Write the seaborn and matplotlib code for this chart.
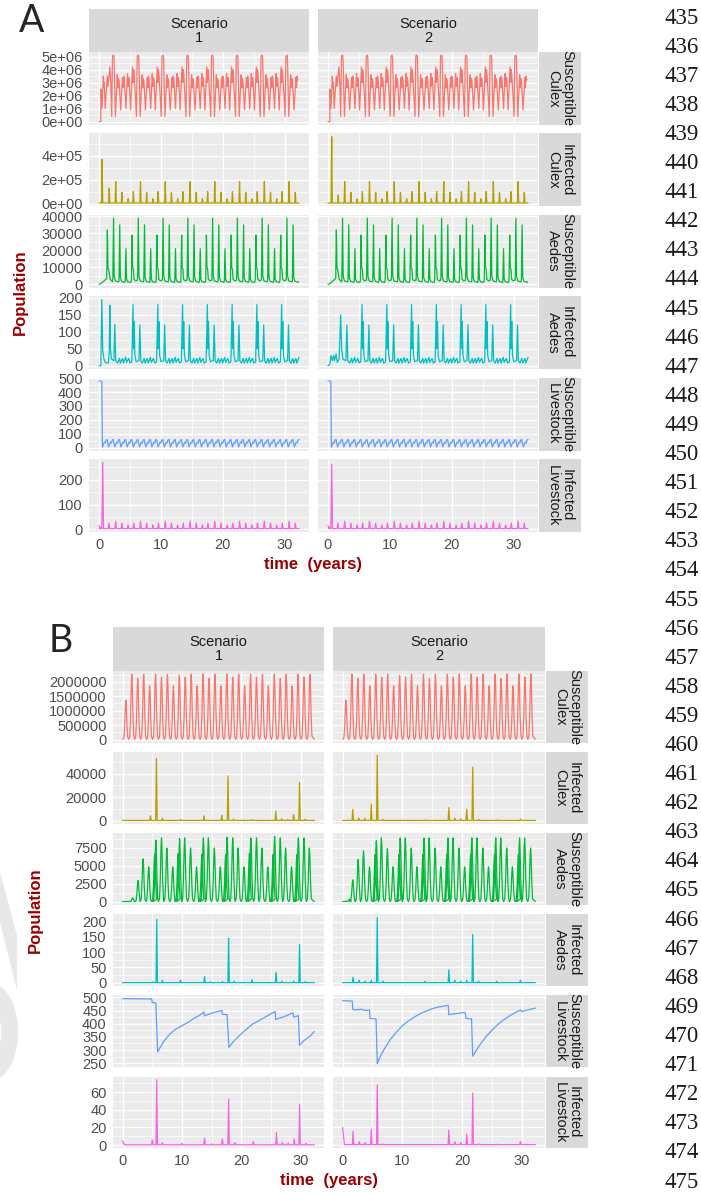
import matplotlib
matplotlib.use("Agg")
import matplotlib.pyplot as plt
from matplotlib.patches import Polygon, Ellipse
import numpy as np
import pandas as pd
import seaborn as sns

sns.set_theme(style="darkgrid")
plt.rcParams["font.family"] = ["Liberation Sans", "DejaVu Sans"]

W, H = 701, 1194
T_END = 32.3
COMPARTMENTS = ["Susceptible\nCulex", "Infected\nCulex", "Susceptible\nAedes",
                "Infected\nAedes", "Susceptible\nLivestock", "Infected\nLivestock"]
COLORS = ["#F8766D", "#B79F00", "#00BA38", "#00BFC4", "#619CFF", "#F564E3"]
SCENARIOS = ["Scenario\n1", "Scenario\n2"]
TITLE_RED = "#990000"

# ---------------- Panel A data ----------------
# Susceptible Culex (x1e6): start-up, then one 4-year cycle repeated
A_SC_T0 = [0, 0.28, 0.32, 0.48, 0.7, 0.8, 0.85, 1.0, 1.34, 1.45, 1.55, 1.76, 1.9]
A_SC_V0 = [0, 0, 2.5, 1.0, 3.5, 2.6, 3.0, 1.0, 3.5, 2.7, 3.2, 4.2, 3.0]
A_SC_OFF = [0.0, 0.12, 0.18, 0.32, 0.38, 0.6, 0.9, 1.0, 1.1, 1.2, 1.45, 1.75, 1.85, 1.95,
            2.05, 2.3, 2.55, 2.65, 2.75, 2.85, 3.05, 3.35, 3.45, 3.55, 3.65]
A_SC_CYC = [0.4, 4.9, 5.1, 5.1, 4.9, 0.4, 3.6, 2.6, 3.3, 3.1, 0.9, 3.4, 2.6, 3.5, 3.2,
            1.0, 3.7, 2.7, 3.4, 3.1, 0.9, 4.2, 3.0, 4.0, 3.5]
A_SC_STARTS = [2.05, 6.05, 10.05, 14.05, 18.05, 22.05, 26.05, 30.05]

# Infected Culex (x1e5): spikes
A_IC_SPK_T1 = [0.5, 1.65]
A_IC_SPK_V1 = [3.7, 1.3]
A_IC_SPK_T2 = [0.6, 1.65]
A_IC_SPK_V2 = [5.6, 0.7]
A_IC_OFF = [0.0, 1.0, 2.0, 2.85]
A_IC_CYC = [1.85, 0.95, 0.4, 1.0]
A_IC_STARTS = [2.7, 6.7, 10.7, 14.7, 18.7, 22.7, 26.7, 30.7]

# Susceptible Aedes (x1e3)
A_SA_T0 = [0, 0.3, 0.8, 1.1, 1.25, 1.35, 1.45, 1.6, 1.8, 2.2]
A_SA_V0 = [0, 0.5, 2, 3, 3.5, 32, 10, 8, 3, 1.5]
A_SA_OFF = [-0.12, 0, 0.1, 0.3, 0.8, 0.88, 1.0, 1.1, 1.3, 1.8, 1.88, 2.0, 2.1, 2.3,
            2.8, 2.88, 3.0, 3.08, 3.2, 3.3, 3.6, 3.8]
A_SA_CYC = [2.5, 39, 5, 2.0, 1.5, 2, 35, 4, 1.8, 1.2, 1.5, 21, 3, 1.5, 1.2, 2.5, 29,
            10, 9, 3, 2, 2.5]
A_SA_STARTS = [2.35, 6.35, 10.35, 14.35, 18.35, 22.35, 26.35, 30.35]

# Infected Aedes
A_IA_T1 = [0, 0.3, 0.45, 0.6, 0.8, 1.0, 1.5, 1.65, 1.75, 1.85, 2.0, 2.4, 2.55, 2.7, 3.0,
           3.3, 3.45, 3.8, 3.95, 4.3, 4.45, 4.8, 5.0, 5.3]
A_IA_V1 = [0, 0, 195, 45, 20, 10, 8, 40, 178, 50, 20, 15, 122, 15, 8, 22, 8, 22, 8, 25,
           10, 22, 8, 12]
A_IA_T2 = [0, 0.3, 0.5, 0.7, 0.9, 1.05, 1.3, 1.5, 1.8, 2.05, 2.2, 2.4, 2.9, 3.05, 3.2,
           3.5, 3.8, 3.95, 4.3, 4.45, 4.8, 5.0, 5.3]
A_IA_V2 = [0, 5, 30, 15, 30, 15, 35, 10, 20, 150, 50, 20, 15, 120, 15, 8, 22, 8, 25, 10,
           22, 8, 12]
A_IA_OFF = [0, 0.08, 0.18, 0.3, 0.5, 0.95, 1.1, 1.25, 1.5, 1.8, 1.95, 2.3, 2.45, 2.8,
            2.95, 3.3, 3.5, 3.8]
A_IA_CYC = [180, 50, 130, 30, 12, 15, 120, 15, 8, 22, 8, 22, 8, 25, 10, 22, 8, 12]
A_IA_STARTS = [5.5, 9.5, 13.5, 17.5, 21.5, 25.5, 29.5]

# Susceptible Livestock
A_SL_T0 = [0, 0.45, 0.55]
A_SL_V0 = [480, 478, 3]
A_SL_OFF = [0.3, 0.45, 0.6, 0.75, 1.0]
A_SL_CYC = [40, 33, 55, 58, 5]
A_SL_STARTS = [0.55 + k for k in range(32)]

# Infected Livestock
A_IL_T1 = [0.2, 0.6]
A_IL_V1 = [8, 270]
A_IL_T2 = [0.2, 0.6]
A_IL_V2 = [8, 262]
A_IL_OFF = [0.0, 1.0, 2.0, 2.9]
A_IL_CYC = [33, 25, 18, 25]
A_IL_STARTS = [-1.3, 2.7, 6.7, 10.7, 14.7, 18.7, 22.7, 26.7, 30.7]

# ---------------- Panel B data ----------------
B_SC_PEAK_T = [0.55 + k for k in range(32)]
B_SC_PEAK_V = [1.35, 2.25, 2.1, 2.25, 1.85, 2.25, 2.15, 2.25, 1.85, 2.2, 2.15, 2.25, 1.85,
               2.25, 2.1, 2.25, 1.85, 2.25, 2.15, 2.25, 1.85, 2.25, 2.15, 2.25, 1.85, 2.25,
               2.1, 2.25, 1.85, 2.25, 2.15, 2.25]

B_IC_T1 = [4.7, 5.7, 6.7, 9.8, 13.7, 16.7, 17.75, 18.7, 21.8, 25.8, 26.8, 27.8, 28.8, 29.8, 30.8]
B_IC_V1 = [4, 53, 2, 0.8, 4, 4.5, 38, 1.2, 0.8, 8, 1.5, 1, 5, 32.5, 1.2]
B_IC_T2 = [1.7, 2.7, 3.7, 4.8, 5.8, 6.8, 13.8, 17.8, 18.8, 19.8, 20.8, 21.8, 22.8, 25.8, 29.8]
B_IC_V2 = [9.4, 2, 2, 14, 55.5, 1, 0.5, 11, 2, 1.5, 9.7, 45.5, 1, 0.5, 1.2]

B_SA_T1 = [1.7, 2.6, 3.45, 4.4, 5.4, 5.6, 6.55, 7.45, 8.45, 9.35, 9.6, 10.45, 11.45, 12.45,
           13.35, 13.6, 14.45, 15.45, 16.45, 17.35, 17.6, 18.55, 19.45, 20.45, 21.35, 21.6,
           22.55, 23.45, 24.45, 25.35, 25.6, 26.55, 27.45, 28.45, 29.35, 29.6, 30.55, 31.45]
B_SA_V1 = [0.5, 2.9, 5.9, 4.8, 6.5, 8.5, 8.8, 7.4, 4.8, 6.6, 8.7, 8.8, 7.4, 4.8, 6.5, 8.8,
           8.8, 7.4, 4.8, 6.5, 8.9, 8.8, 7.4, 4.8, 6.6, 8.8, 8.8, 7.4, 4.8, 6.5, 9.0, 8.8,
           7.4, 4.8, 6.5, 8.8, 8.8, 7.4]
B_SA_T2 = [1.1, 1.7, 2.6, 3.5, 4.5, 5.45, 5.65, 6.5, 7.5, 8.45, 9.45, 9.65, 10.5, 11.5,
           12.45, 13.45, 13.65, 14.5, 15.5, 16.45, 17.45, 17.65, 18.5, 19.5, 20.45, 21.45,
           21.65, 22.5, 23.5, 24.45, 25.45, 25.65, 26.5, 27.5, 28.45, 29.45, 29.65, 30.5, 31.5]
B_SA_V2 = [0.3, 3.0, 5.8, 7.0, 4.8, 6.5, 8.4, 8.8, 7.3, 4.8, 6.5, 8.8, 8.8, 7.4, 4.8, 6.5,
           8.8, 8.8, 7.4, 4.8, 6.5, 8.8, 8.8, 7.4, 4.8, 6.5, 8.8, 8.8, 7.4, 4.8, 6.5, 8.8,
           8.8, 7.4, 4.8, 6.5, 8.8, 8.8, 7.4]

B_IA_T1 = [5.0, 5.75, 6.7, 9.75, 13.8, 14.8, 16.8, 17.85, 18.8, 21.8, 25.85, 26.8, 28.8, 29.8, 30.8]
B_IA_V1 = [3, 207, 8, 8, 20, 3, 4, 146, 5, 10, 34, 5, 5, 125, 4]
B_IA_T2 = [1.75, 2.75, 3.75, 4.8, 5.8, 6.75, 13.8, 17.8, 18.8, 19.8, 20.8, 21.8, 22.8, 25.8, 29.8]
B_IA_V2 = [18, 8, 5, 8, 213, 5, 5, 42, 8, 5, 8, 158, 5, 5, 8]

B_SL_T1 = [0, 4.9, 5.0, 5.6, 5.9, 6.2, 7.0, 8.0, 9.0, 10.0, 11.0, 12.0, 13.0, 13.7, 13.8,
           15.0, 16.7, 16.8, 17.6, 17.9, 18.3, 19.0, 20.0, 21.0, 22.0, 23.0, 24.0, 25.0,
           25.7, 25.8, 27.0, 28.7, 28.8, 29.6, 29.8, 30.5, 31.5, 32.3]
B_SL_V1 = [495, 494, 480, 479, 293, 305, 335, 362, 380, 392, 405, 420, 432, 445, 430, 440,
           450, 436, 434, 310, 322, 340, 362, 382, 400, 412, 425, 438, 446, 416, 425, 441,
           425, 430, 318, 335, 352, 370]
B_SL_T2 = [0, 1.6, 1.7, 2.0, 3.0, 4.0, 4.5, 4.6, 5.6, 5.8, 6.3, 7.0, 8.0, 9.0, 10.0, 11.0,
           12.0, 13.0, 14.0, 15.0, 16.0, 17.0, 17.7, 17.8, 18.5, 19.5, 20.5, 20.7, 21.6,
           21.8, 22.3, 23.0, 24.0, 25.0, 26.0, 27.0, 28.0, 29.0, 29.8, 30.0, 31.0, 32.3]
B_SL_V2 = [487, 486, 455, 452, 455, 450, 452, 420, 418, 248, 275, 305, 340, 368, 392, 410,
           425, 438, 448, 457, 463, 467, 470, 434, 437, 440, 443, 420, 418, 277, 295, 320,
           350, 375, 397, 415, 430, 443, 452, 446, 452, 459]

B_IL_T1 = [5.0, 5.75, 6.7, 10.0, 13.8, 15.0, 16.8, 17.85, 18.9, 22.0, 25.9, 26.9, 27.9, 28.9, 29.8, 30.9]
B_IL_V1 = [6, 74, 3, 2, 8, 1.5, 7, 52, 3, 4, 14, 3, 2, 7, 46, 2]
B_IL_T2 = [1.75, 2.8, 3.75, 4.8, 5.8, 6.75, 17.8, 18.8, 19.8, 20.8, 21.8, 22.8, 25.8, 29.8, 30.8]
B_IL_V2 = [15.5, 4, 3, 18, 68, 1.5, 17, 4, 3, 12.5, 59, 1.5, 1, 4, 1]

A_YTICKS = [[0, 1e6, 2e6, 3e6, 4e6, 5e6], [0, 2e5, 4e5], [0, 10000, 20000, 30000, 40000],
            [0, 50, 100, 150, 200], [0, 100, 200, 300, 400, 500], [0, 100, 200]]
A_YLABELS = [["0e+00", "1e+06", "2e+06", "3e+06", "4e+06", "5e+06"],
             ["0e+00", "2e+05", "4e+05"], ["0", "10000", "20000", "30000", "40000"],
             ["0", "50", "100", "150", "200"], ["0", "100", "200", "300", "400", "500"],
             ["0", "100", "200"]]
B_YTICKS = [[0, 500000, 1000000, 1500000, 2000000], [0, 20000, 40000], [0, 2500, 5000, 7500],
            [0, 50, 100, 150, 200], [250, 300, 350, 400, 450, 500], [0, 20, 40, 60]]
B_YLABELS = [["0", "500000", "1000000", "1500000", "2000000"], ["0", "20000", "40000"],
             ["0", "2500", "5000", "7500"], ["0", "50", "100", "150", "200"],
             ["250", "300", "350", "400", "450", "500"], ["0", "20", "40", "60"]]
XTICKS = [0, 10, 20, 30]


# ---------------- helpers to turn the read values into polylines ----------------
def cycles(t0, v0, off, cyc, starts):
    t, v = list(t0), list(v0)
    for s in starts:
        for o, y in zip(off, cyc):
            if s + o <= T_END and s + o > (t[-1] if t else -1):
                t.append(s + o)
                v.append(y)
    return t, v


def spikes(times, heights, base, head=None, w=0.12):
    t, v = [0.0], [base]
    if head:
        t, v = [0.0, 0.3], [head, base]
    for s, h in zip(times, heights):
        t += [s - w, s, s + w]
        v += [base, h, base]
    t.append(T_END)
    v.append(base)
    return t, v


def peaks(times, heights, base):
    shape_o = [-0.5, -0.33, -0.2, -0.08, 0, 0.08, 0.2, 0.33]
    shape_f = [0.0, 0.05, 0.35, 0.85, 1.0, 0.85, 0.35, 0.05]
    t, v = [0.0], [base]
    for s, h in zip(times, heights):
        for o, f in zip(shape_o, shape_f):
            if 0 < s + o <= T_END:
                t.append(s + o)
                v.append(base + f * h)
    t.append(T_END)
    v.append(base)
    return t, v


def scale(tv, k):
    return tv[0], [x * k for x in tv[1]]


def ic_series(spk_t, spk_v):
    st = list(spk_t) + [s + o for s in A_IC_STARTS for o in A_IC_OFF if s + o < T_END]
    sv = list(spk_v) + [c for s in A_IC_STARTS for o, c in zip(A_IC_OFF, A_IC_CYC) if s + o < T_END]
    return spikes(st, sv, 0.05, w=0.1)


def il_series(spk_t, spk_v):
    st = list(spk_t) + [s + o for s in A_IL_STARTS for o in A_IL_OFF if 1.0 < s + o < T_END]
    sv = list(spk_v) + [c for s in A_IL_STARTS for o, c in zip(A_IL_OFF, A_IL_CYC) if 1.0 < s + o < T_END]
    return spikes(st, sv, 3, head=15, w=0.13)


A_SERIES = [
    [scale(cycles(A_SC_T0, A_SC_V0, A_SC_OFF, A_SC_CYC, A_SC_STARTS), 1e6)] * 2,
    [scale(ic_series(A_IC_SPK_T1, A_IC_SPK_V1), 1e5), scale(ic_series(A_IC_SPK_T2, A_IC_SPK_V2), 1e5)],
    [scale(cycles(A_SA_T0, A_SA_V0, A_SA_OFF, A_SA_CYC, A_SA_STARTS), 1e3)] * 2,
    [cycles(A_IA_T1, A_IA_V1, A_IA_OFF, A_IA_CYC, A_IA_STARTS),
     cycles(A_IA_T2, A_IA_V2, A_IA_OFF, A_IA_CYC, A_IA_STARTS)],
    [cycles(A_SL_T0, A_SL_V0, A_SL_OFF, A_SL_CYC, A_SL_STARTS)] * 2,
    [il_series(A_IL_T1, A_IL_V1), il_series(A_IL_T2, A_IL_V2)],
]

B_SERIES = [
    [scale(peaks(B_SC_PEAK_T, B_SC_PEAK_V, 0.01), 1e6)] * 2,
    [scale(spikes(B_IC_T1, B_IC_V1, 0.05), 1e3), scale(spikes(B_IC_T2, B_IC_V2, 0.05), 1e3)],
    [scale(peaks(B_SA_T1, B_SA_V1, 0.05), 1e3), scale(peaks(B_SA_T2, B_SA_V2, 0.05), 1e3)],
    [spikes(B_IA_T1, B_IA_V1, 0.3), spikes(B_IA_T2, B_IA_V2, 0.3)],
    [(B_SL_T1, B_SL_V1), (B_SL_T2, B_SL_V2)],
    [spikes(B_IL_T1, B_IL_V1, 0.3, head=5), spikes(B_IL_T2, B_IL_V2, 0.5, head=20)],
]

fig = plt.figure(figsize=(W / 100, H / 100), dpi=100)

# faint watermark remnants on the left edge of panel B
wm = fig.add_axes([0, 0, 1, 1], zorder=-5)
wm.set_xlim(0, W)
wm.set_ylim(H, 0)
wm.axis("off")
wm.add_patch(Polygon([(0, 872), (0, 922), (17, 990), (17, 935)], closed=True,
                     facecolor="#E8E8E8", edgecolor="none"))
wm.add_patch(Ellipse((-8, 1032), 52, 96, facecolor="#E8E8E8", edgecolor="none"))
wm.add_patch(Ellipse((-14, 1032), 30, 62, facecolor="white", edgecolor="none"))


def px_axes(x0, y0, x1, y1, **kw):
    return fig.add_axes([x0 / W, 1 - y1 / H, (x1 - x0) / W, (y1 - y0) / H], **kw)


def strip(x0, y0, x1, y1, text, rot=0):
    ax = px_axes(x0, y0, x1, y1)
    ax.set_facecolor("#D9D9D9")
    ax.set_xticks([])
    ax.set_yticks([])
    ax.grid(False)
    for s in ax.spines.values():
        s.set_visible(False)
    ax.text(0.5, 0.5, text, ha="center", va="center", rotation=rot, fontsize=10.5,
            color="#1A1A1A", transform=ax.transAxes, linespacing=1.0)


def minor_between(ticks):
    step = ticks[1] - ticks[0]
    return [t + step / 2 for t in [ticks[0] - step] + list(ticks)]


def draw_block(series, yticks, ylabels, cols, top, row_h, gap, strip_x):
    x_lo, x_hi = -0.05 * T_END, T_END * 1.05
    for r in range(6):
        y0 = top + r * (row_h + gap)
        allv = np.concatenate([np.asarray(s[1], float) for s in series[r]])
        lo, hi = allv.min(), allv.max()
        pad = 0.05 * (hi - lo)
        for c in range(2):
            ax = px_axes(cols[c][0], y0, cols[c][1], y0 + row_h)
            ax.set_facecolor("#EBEBEB")
            t, v = series[r][c]
            df = pd.DataFrame({"time": t, "value": v})
            sns.lineplot(data=df, x="time", y="value", ax=ax, color=COLORS[r],
                         linewidth=0.9, estimator=None, sort=False)
            ax.set_xticks(XTICKS)
            ax.set_xticks(minor_between(XTICKS), minor=True)
            ax.set_yticks(yticks[r])
            ax.set_yticks(minor_between(yticks[r]), minor=True)
            ax.set_xlim(x_lo, x_hi)
            ax.set_ylim(lo - pad, hi + pad)
            ax.grid(True, which="major", color="white", linewidth=1.0)
            ax.grid(True, which="minor", color="white", linewidth=0.5)
            ax.set_xlabel("")
            ax.set_ylabel("")
            for s in ax.spines.values():
                s.set_visible(False)
            ax.tick_params(which="minor", length=0)
            ax.tick_params(which="major", length=3, width=0.6, color="#333333",
                           labelsize=10.5, labelcolor="#4D4D4D", pad=1.5)
            if c == 0:
                ax.set_yticklabels(ylabels[r])
            else:
                ax.tick_params(axis="y", length=0, labelleft=False)
            if r < 5:
                ax.tick_params(axis="x", length=0, labelbottom=False)
        strip(strip_x[0], y0, strip_x[1], y0 + row_h, COMPARTMENTS[r], rot=-90)


# Panel A
A_COLS = [(89, 309), (318, 538)]
strip(89, 9, 309, 52, SCENARIOS[0])
strip(318, 9, 538, 52, SCENARIOS[1])
draw_block(A_SERIES, A_YTICKS, A_YLABELS, A_COLS, 52, 72.9, 8.5, (539, 581))
fig.text(32 / W, 1 - 21 / H, "A", fontsize=27, ha="center", va="center",
         family=["Lato", "Liberation Sans"])
fig.text(20 / W, 1 - 292 / H, "Population", rotation=90, fontsize=12, fontweight="bold",
         color=TITLE_RED, ha="center", va="center")
fig.text(313 / W, 1 - 565 / H, "time  (years)", fontsize=12, fontweight="bold",
         color=TITLE_RED, ha="center", va="center")

# Panel B
B_COLS = [(113, 324), (333, 545)]
strip(113, 627, 324, 671, SCENARIOS[0])
strip(333, 627, 545, 671, SCENARIOS[1])
draw_block(B_SERIES, B_YTICKS, B_YLABELS, B_COLS, 671, 71.6, 9.5, (546, 588))
fig.text(61 / W, 1 - 641 / H, "B", fontsize=27, ha="center", va="center",
         family=["Lato", "Liberation Sans"])
fig.text(35 / W, 1 - 910 / H, "Population", rotation=90, fontsize=12, fontweight="bold",
         color=TITLE_RED, ha="center", va="center")
fig.text(329 / W, 1 - 1181 / H, "time  (years)", fontsize=12, fontweight="bold",
         color=TITLE_RED, ha="center", va="center")

# line numbers on the right margin
LINE_NUMBERS = list(range(435, 476))
for i, n in enumerate(LINE_NUMBERS):
    fig.text(699 / W, 1 - (18 + i * 29.1) / H, str(n), fontsize=16.5, ha="right", va="center",
             family=["Liberation Serif", "DejaVu Serif"], color="#1A1A1A")

fig.savefig("out.png", dpi=100)
